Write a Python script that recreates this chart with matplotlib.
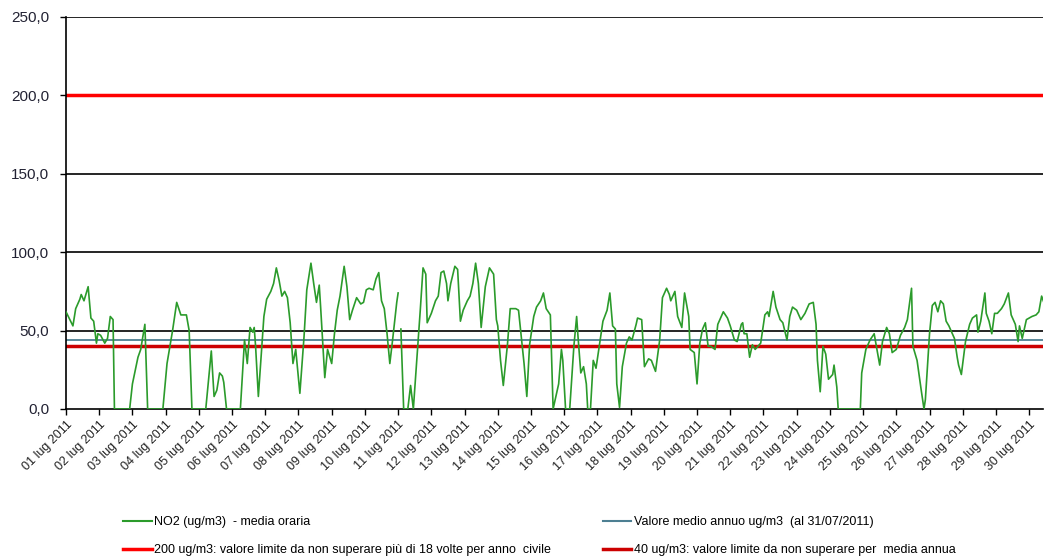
import numpy as np
import matplotlib.pyplot as plt
from matplotlib.lines import Line2D

plt.rcParams['font.family'] = ['Liberation Sans', 'DejaVu Sans']

# hourly NO2 readings, July 2011 (hour from 01 lug 00:00, ug/m3)
hours = [0, 5, 7, 10, 11, 13, 16, 18, 20, 22, 23, 25, 28, 30, 32, 34, 35, 46, 48, 52,
         54, 57, 59, 70, 73, 77, 80, 83, 87, 89, 91, 101, 105, 107, 109, 111, 113, 114, 116, 126,
         129, 131, 133, 135, 136, 137, 139, 143, 145, 148, 150, 152, 154, 156, 158, 160, 162, 164, 166, 169,
         172, 174, 177, 179, 181, 183, 184, 187, 189, 192, 194, 196, 198, 201, 203, 205, 207, 210, 213, 215,
         217, 219, 222, 224, 226, 228, 230, 232, 234, 236, 239, 240, 241, 242, 244, 247, 249, 251, 254, 256,
         258, 260, 261, 264, 267, 269, 271, 273, 275, 276, 278, 281, 283, 285, 287, 290, 292, 294, 296, 298,
         300, 303, 306, 309, 311, 312, 314, 316, 319, 321, 325, 327, 329, 331, 333, 335, 338, 340, 343, 345,
         347, 350, 352, 353, 356, 358, 359, 361, 364, 367, 369, 370, 372, 374, 376, 377, 379, 381, 383, 385,
         388, 391, 393, 395, 397, 398, 400, 402, 405, 407, 409, 412, 413, 416, 418, 421, 423, 426, 429, 431,
         434, 436, 437, 440, 442, 445, 447, 450, 451, 454, 456, 458, 460, 462, 464, 466, 469, 471, 474, 475,
         478, 480, 483, 485, 488, 489, 490, 492, 494, 496, 498, 500, 502, 505, 507, 508, 511, 513, 516, 518,
         521, 523, 525, 528, 531, 534, 537, 540, 542, 543, 545, 547, 549, 551, 554, 555, 557, 558, 574, 575,
         578, 581, 584, 588, 590, 593, 595, 597, 600, 603, 606, 608, 611, 612, 615, 618, 620, 621, 624, 626,
         628, 630, 632, 634, 636, 638, 640, 642, 644, 645, 647, 648, 650, 653, 655, 658, 659, 661, 664, 665,
         667, 669, 671, 673, 676, 678, 681, 683, 686, 688, 689, 691, 694, 696, 698, 701, 703, 705, 707]
no2 = [62, 53, 64, 70, 73, 69, 78, 58, 56, 42, 48, 47, 42, 45, 59, 57, 0, 0, 16, 33,
       38, 54, 0, 0, 29, 50, 68, 60, 60, 50, 0, 0, 37, 8, 12, 23, 21, 17, 0, 0,
       44, 29, 52, 49, 52, 40, 8, 59, 70, 75, 80, 90, 82, 72, 75, 71, 55, 29, 38, 10,
       46, 76, 93, 80, 68, 79, 65, 20, 38, 29, 48, 63, 72, 91, 78, 57, 63, 71, 67, 68,
       76, 77, 76, 83, 87, 69, 64, 48, 29, 44, 68, 74, np.nan, 51, 0, 0, 15, 0, 38, 63,
       90, 86, 55, 61, 69, 72, 87, 88, 80, 69, 80, 91, 89, 56, 63, 69, 72, 80, 93, 80,
       52, 78, 90, 86, 57, 53, 31, 15, 41, 64, 64, 63, 46, 29, 8, 41, 59, 65, 69, 74,
       64, 60, 0, 4, 16, 38, 31, 0, 0, 40, 59, 46, 23, 27, 16, 0, 0, 31, 26, 38,
       56, 63, 74, 53, 51, 16, 1, 27, 42, 46, 44, 54, 58, 57, 27, 32, 31, 24, 44, 71,
       77, 73, 69, 75, 59, 52, 74, 59, 38, 36, 16, 42, 51, 55, 40, 40, 38, 54, 60, 62,
       58, 53, 44, 43, 54, 55, 48, 48, 33, 41, 38, 40, 42, 60, 62, 59, 75, 65, 57, 55,
       44, 59, 65, 63, 57, 61, 67, 68, 54, 31, 11, 40, 35, 19, 22, 28, 14, 0, 0, 23,
       38, 44, 48, 28, 43, 52, 48, 36, 38, 47, 52, 57, 77, 40, 31, 12, 0, 6, 48, 66,
       68, 62, 69, 67, 56, 53, 49, 45, 33, 28, 22, 29, 43, 54, 58, 60, 49, 56, 74, 61,
       56, 48, 61, 61, 64, 67, 74, 60, 54, 43, 53, 45, 57, 58, 59, 60, 62, 72, 67]

day_labels = [f"{d:02d} lug 2011" for d in range(1, 31)]
y_ticks = [0, 50, 100, 150, 200, 250]

limit_hourly = 200
limit_annual = 40
annual_mean = 44

fig = plt.figure(figsize=(10.45, 5.56), dpi=100)
ax = fig.add_axes([66 / 1045, 1 - 409 / 556, (1043 - 66) / 1045, (409 - 17) / 556])

for y in y_ticks[1:]:
    ax.axhline(y, color="black", linewidth=1.2, zorder=1)

ax.axhline(limit_hourly, color="#ff0000", linewidth=2.5, zorder=2)
ax.axhline(annual_mean, color="#4d7f92", linewidth=1.3, zorder=2)
ax.axhline(limit_annual, color="#cc0000", linewidth=2.5, zorder=2)
ax.plot(hours, no2, color="#2b9b2b", linewidth=1.2, zorder=3)

ax.set_xlim(0, 706)
ax.set_ylim(0, 250)
ax.set_yticks(y_ticks)
ax.set_yticklabels([f"{v:.1f}".replace(".", ",") for v in y_ticks], fontsize=11)
ax.set_xticks(range(0, 24 * len(day_labels), 24))
ax.set_xticklabels(day_labels, rotation=45, ha="right", rotation_mode="anchor",
                   fontsize=9)
ax.tick_params(direction="out", length=4, width=1, colors="black")
ax.tick_params(axis="x", labelcolor="#222222", pad=3)
ax.tick_params(axis="y", labelcolor="#222233", pad=8)

for s in ["top", "right"]:
    ax.spines[s].set_visible(False)
for s in ["left", "bottom"]:
    ax.spines[s].set_linewidth(1.2)

handles = [
    Line2D([], [], color="#2b9b2b", linewidth=1.5),
    Line2D([], [], color="#ff0000", linewidth=2.5),
    Line2D([], [], color="#4d7f92", linewidth=1.5),
    Line2D([], [], color="#cc0000", linewidth=2.5),
]
labels = [
    "NO2 (ug/m3)  - media oraria",
    "200 ug/m3: valore limite da non superare più di 18 volte per anno  civile",
    "Valore medio annuo ug/m3  (al 31/07/2011)",
    "40 ug/m3: valore limite da non superare per  media annua",
]
fig.legend(handles, labels, ncol=2, loc="upper left",
           bbox_to_anchor=(112 / 1045, 1 - 505 / 556), frameon=False,
           fontsize=9, handlelength=2.3, handletextpad=0.2,
           columnspacing=4.1, labelspacing=1.3)

fig.savefig("out.png", dpi=100)
